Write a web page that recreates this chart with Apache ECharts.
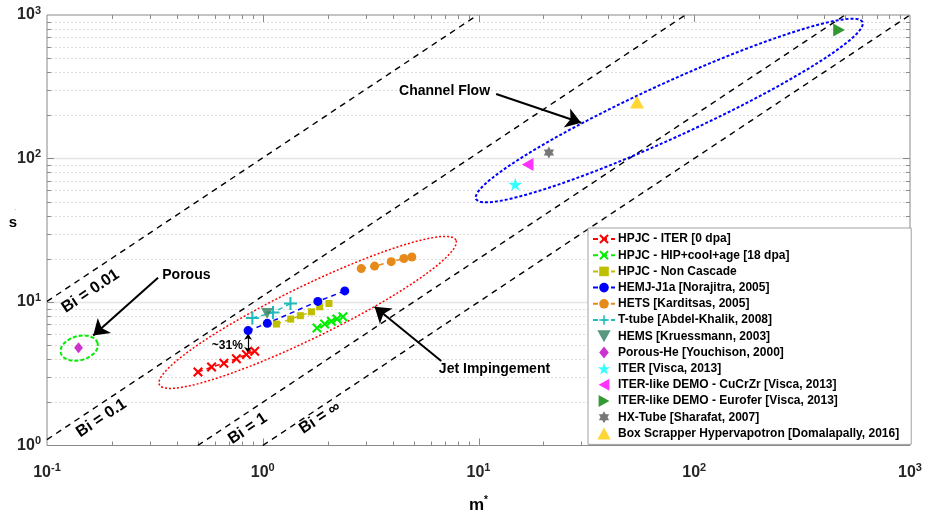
<!DOCTYPE html>
<html>
<head>
<meta charset="utf-8">
<script src="https://cdn.jsdelivr.net/npm/echarts@6/dist/echarts.min.js"></script>
<style>
html,body{margin:0;padding:0;background:#fff;}
#chart{width:932px;height:519px;}
</style>
</head>
<body>
<div id="chart"></div>
<script>
var hpjcIterM = [0.501, 0.579, 0.660, 0.755, 0.840, 0.918];
var hpjcIterS = [3.25, 3.52, 3.75, 4.02, 4.31, 4.54];
var hpjcHipM = [1.784, 1.936, 2.080, 2.208, 2.353];
var hpjcHipS = [6.59, 7.02, 7.33, 7.60, 7.90];
var hpjcNcM = [1.157, 1.348, 1.494, 1.681, 1.836, 2.027];
var hpjcNcS = [7.02, 7.60, 8.03, 8.55, 9.26, 9.76];
var hemjM = [0.855, 1.05, 1.80, 2.40];
var hemjS = [6.32, 7.10, 10.1, 11.95];
var hetsM = [2.86, 3.30, 3.94, 4.51, 4.91];
var hetsS = [17.1, 17.8, 19.1, 20.1, 20.6];
var ttubeM = [0.895, 1.116, 1.344];
var ttubeS = [7.73, 8.46, 9.76];
var hemsPt = [1.047, 8.32];
var porousPt = [0.140, 4.79];
var iterPt = [14.8, 66.1];
var demoCuPt = [16.9, 90.9];
var demoEuPt = [469, 785];
var hxPt = [21.2, 110];
var boxPt = [54.3, 246.7];

// Biot lines (end points)
var biNames = ['Bi = 0.01', 'Bi = 0.1', 'Bi = 1', 'Bi = \u221E'];
var biLines = [
  [[0.1, 10.1], [9.9, 1000]],
  [[0.1, 1.1], [90.9, 1000]],
  [[0.5, 1], [500, 1000]],
  [[1, 1], [1000, 1000]]
];
var biLabelAt = [[0.159, 11.9], [0.1786, 1.55], [0.852, 1.31], [1.84, 1.56]];

function pairs(ms, ss) {
  var out = [];
  for (var i = 0; i < ms.length; i++) out.push([ms[i], ss[i]]);
  return out;
}

var symX = 'path://M1.5,0L5,3.5L8.5,0L10,1.5L6.5,5L10,8.5L8.5,10L5,6.5L1.5,10L0,8.5L3.5,5L0,1.5Z';
var symPlus = 'path://M4.2,0H5.8V4.2H10V5.8H5.8V10H4.2V5.8H0V4.2H4.2Z';
var symStar = 'path://M50,0L61,35L98,35L68,57L79,91L50,70L21,91L32,57L2,35L39,35Z';
var symHex = 'path://M50,0L64,25L93,25L79,50L93,75L64,75L50,100L36,75L7,75L21,50L7,25L36,25Z';
var triUp = 'path://M5,0L10,9L0,9Z';
var triDown = 'path://M0,0L10,0L5,9Z';
var triLeft = 'path://M9,0L9,10L0,5Z';
var triRight = 'path://M0,0L9,5L0,10Z';
var symDiamond = 'path://M4,0L8,5L4,10L0,5Z';

var FONT = '"Liberation Sans", Arial, sans-serif';

var chart = echarts.init(document.getElementById('chart'));

function lineSeries(name, data, color, sym, size) {
  return {
    name: name, type: 'line', data: data, symbol: sym, symbolSize: size,
    showSymbol: true, z: 5,
    lineStyle: { color: color, width: 1.5, type: [5, 4] },
    itemStyle: { color: color }
  };
}
function dotSeries(name, pt, color, sym, size) {
  return {
    name: name, type: 'scatter', data: [pt], symbol: sym, symbolSize: size,
    symbolKeepAspect: true, z: 5, itemStyle: { color: color }
  };
}

var series = [];
for (var i = 0; i < biLines.length; i++) {
  series.push({
    name: biNames[i], type: 'line', data: biLines[i], showSymbol: false, silent: true, z: 3,
    lineStyle: { color: '#000', width: 1.4, type: [6, 5] }
  });
}
series.push(lineSeries('HPJC - ITER [0 dpa]', pairs(hpjcIterM, hpjcIterS), '#ff0000', symX, 10));
series.push(lineSeries('HPJC - HIP+cool+age [18 dpa]', pairs(hpjcHipM, hpjcHipS), '#00ee00', symX, 10));
series.push(lineSeries('HPJC - Non Cascade', pairs(hpjcNcM, hpjcNcS), '#bfbf00', 'rect', 7));
series.push(lineSeries('HEMJ-J1a [Norajitra, 2005]', pairs(hemjM, hemjS), '#0000ff', 'circle', 9));
series.push(lineSeries('HETS [Karditsas, 2005]', pairs(hetsM, hetsS), '#e68a1a', 'circle', 9));
series.push(lineSeries('T-tube [Abdel-Khalik, 2008]', pairs(ttubeM, ttubeS), '#20bcbc', symPlus, 13));
series.push(dotSeries('HEMS [Kruessmann, 2003]', hemsPt, '#2f7f5f', triDown, 12));
series.push(dotSeries('Porous-He [Youchison, 2000]', porousPt, '#bf00bf', symDiamond, 11));
series.push(dotSeries('ITER [Visca, 2013]', iterPt, '#00ffff', symStar, 14));
series.push(dotSeries('ITER-like DEMO - CuCrZr [Visca, 2013]', demoCuPt, '#ff00ff', triLeft, 13));
series.push(dotSeries('ITER-like DEMO - Eurofer [Visca, 2013]', demoEuPt, '#008000', triRight, 13));
series.push(dotSeries('HX-Tube [Sharafat, 2007]', hxPt, '#555555', symHex, 12));
series.push(dotSeries('Box Scrapper Hypervapotron [Domalapally, 2016]', boxPt, '#ffcc00', triUp, 14));

// annotation arrows
series.push({
  name: 'arrows', type: 'line', data: [], silent: true, z: 6,
  markLine: {
    silent: true, animation: false,
    symbol: ['none', 'arrow'], symbolSize: 15,
    label: { show: false },
    lineStyle: { color: '#000', width: 2, type: 'solid' },
    data: [
      [{ coord: [0.327, 14.78] }, { coord: [0.1638, 5.84] }],
      [{ coord: [12.08, 281.8] }, { coord: [29.9, 177.5] }],
      [{ coord: [6.72, 3.88] }, { coord: [3.30, 9.26] }]
    ]
  }
});
series.push({
  name: 'gap', type: 'line', data: [], silent: true, z: 6,
  markLine: {
    silent: true, animation: false,
    symbol: ['arrow', 'arrow'], symbolSize: 6,
    label: { show: false },
    lineStyle: { color: '#000', width: 1.2, type: 'solid' },
    data: [[{ coord: [0.855, 6.0] }, { coord: [0.855, 4.42] }]]
  }
});

var legendNames = series.slice(4, 17).map(function (s) { return s.name; });

function powLabel(v) {
  var e = Math.round(Math.log(v) / Math.LN10);
  return '{b|10}{s|' + e + '}';
}
var tickRich = {
  b: { fontSize: 16, fontWeight: 'bold', color: '#262626', fontFamily: FONT },
  s: { fontSize: 11, fontWeight: 'bold', color: '#262626', fontFamily: FONT, padding: [0, 0, 9, 0] }
};

chart.setOption({
  animation: false,
  backgroundColor: '#fff',
  grid: { left: 47, right: 22, top: 15, bottom: 70, show: true, borderColor: '#8a8a8a', borderWidth: 1 },
  xAxis: {
    type: 'log', logBase: 10, min: 0.1, max: 1000,
    axisLine: { show: false }, axisTick: { show: false }, splitLine: { show: false },
    axisLabel: { margin: 17, formatter: powLabel, rich: tickRich },
    name: '{b|m}{s|*}', nameLocation: 'middle', nameGap: 50,
    nameTextStyle: { rich: {
      b: { fontSize: 17, fontWeight: 'bold', color: '#000', fontFamily: FONT },
      s: { fontSize: 10, fontWeight: 'bold', color: '#000', fontFamily: FONT, padding: [0, 0, 10, 0] }
    } }
  },
  yAxis: {
    type: 'log', logBase: 10, min: 1, max: 1000,
    axisLine: { show: false }, axisTick: { show: false }, splitLine: { show: false },
    axisLabel: { margin: 6, formatter: powLabel, rich: tickRich },
    name: '{s|\u02D9}\n{b|s}', nameLocation: 'middle', nameGap: 30, nameRotate: 0,
    nameMoveOverlap: false,
    nameTextStyle: { padding: [0, 0, 20, 0], rich: {
      b: { fontSize: 15, fontWeight: 'bold', color: '#000', fontFamily: FONT },
      s: { fontSize: 8, color: '#555', fontFamily: FONT, lineHeight: 6 }
    } }
  },
  legend: {
    data: legendNames, orient: 'vertical', left: 588, top: 228,
    padding: [5, 12, 5, 4], itemGap: 4.2, itemWidth: 22, itemHeight: 12,
    symbolKeepAspect: true,
    backgroundColor: '#fff', borderColor: '#a0a0a0', borderWidth: 1,
    selectedMode: false,
    textStyle: { fontSize: 12, lineHeight: 12, fontWeight: 'bold', color: '#000', fontFamily: FONT, padding: [0, 0, 0, -2] }
  },
  series: series
});

// ---- extra drawing: ticks, grid lines, ellipses, texts
function px(m, s) { return chart.convertToPixel({ gridIndex: 0 }, [m, s]); }

var g = [];
var x0 = px(0.1, 1)[0], x1 = px(1000, 1)[0];
var yB = px(1, 1)[1], yT = px(1, 1000)[1];

function seg(a, b, c, d, color, w, dash, z) {
  g.push({ type: 'line', silent: true, z: z || 1,
    shape: { x1: a, y1: b, x2: c, y2: d },
    style: { stroke: color, lineWidth: w, lineDash: dash || null } });
}

// horizontal grid lines and y ticks
for (var e = 0; e < 3; e++) {
  for (var k = 2; k < 10; k++) {
    var yy = Math.round(px(1, k * Math.pow(10, e))[1]) + 0.5;
    seg(x0, yy, x1, yy, '#dcdcdc', 1, [2, 2]);
    seg(x0, yy, x0 + 4, yy, '#8a8a8a', 1, null, 2);
    seg(x1, yy, x1 - 4, yy, '#8a8a8a', 1, null, 2);
  }
}
[10, 100].forEach(function (v) {
  var yy = Math.round(px(1, v)[1]) + 0.5;
  seg(x0, yy, x1, yy, '#e4e4e4', 1.5);
  seg(x0, yy, x0 + 7, yy, '#8a8a8a', 1, null, 2);
  seg(x1, yy, x1 - 7, yy, '#8a8a8a', 1, null, 2);
});
// x ticks
for (var e2 = -1; e2 < 3; e2++) {
  for (var k2 = 1; k2 < 10; k2++) {
    if (k2 === 1 && e2 === -1) continue;
    var xx = Math.round(px(k2 * Math.pow(10, e2), 1)[0]) + 0.5;
    var L = k2 === 1 ? 7 : 4;
    seg(xx, yB, xx, yB - L, '#8a8a8a', 1, null, 2);
    seg(xx, yT, xx, yT + L, '#8a8a8a', 1, null, 2);
  }
}

// ellipses (center in data coords, axes in px, angle in degrees)
var ellipses = [
  { c: [1.615, 8.46], a: 165, b: 26, ang: 26, color: '#ff0000', w: 1.5, dash: [2, 2] },
  { c: [76.6, 216], a: 212.5, b: 27, ang: 24.6, color: '#0000ff', w: 2, dash: [3, 2] },
  { c: [0.141, 4.77], a: 19, b: 12, ang: 15, color: '#00ee00', w: 2, dash: [4, 2] }
];
ellipses.forEach(function (el) {
  var p = px(el.c[0], el.c[1]);
  var th = el.ang * Math.PI / 180;
  var pts = [];
  for (var i = 0; i < 120; i++) {
    var t = i / 120 * Math.PI * 2;
    var u = el.a * Math.cos(t), v = el.b * Math.sin(t);
    pts.push([p[0] + u * Math.cos(th) - v * Math.sin(th), p[1] - (u * Math.sin(th) + v * Math.cos(th))]);
  }
  g.push({ type: 'polygon', silent: true, z: 4, shape: { points: pts },
    style: { fill: 'none', stroke: el.color, lineWidth: el.w, lineDash: el.dash } });
});

// Bi labels along the lines
biLines.forEach(function (ln, i) {
  var a = px(ln[0][0], ln[0][1]), b = px(ln[1][0], ln[1][1]);
  var ang = Math.atan2(-(b[1] - a[1]), b[0] - a[0]);
  var p = px(biLabelAt[i][0], biLabelAt[i][1]);
  g.push({ type: 'text', silent: true, z: 10, x: p[0], y: p[1], rotation: ang,
    style: { text: biNames[i], fill: '#000', font: 'bold 16px ' + FONT, align: 'center', verticalAlign: 'middle' } });
});

// annotation texts
var notes = [
  { t: 'Porous', at: [0.4425, 15.5], size: 14 },
  { t: 'Channel Flow', at: [6.96, 295.5], size: 14 },
  { t: 'Jet Impingement', at: [11.86, 3.41], size: 14 },
  { t: '~31%', at: [0.685, 5.0], size: 12 }
];
notes.forEach(function (n) {
  var p = px(n.at[0], n.at[1]);
  g.push({ type: 'text', silent: true, z: 10, x: p[0], y: p[1],
    style: { text: n.t, fill: '#000', font: 'bold ' + n.size + 'px ' + FONT, align: 'center', verticalAlign: 'middle' } });
});

chart.setOption({ graphic: g });
</script>
</body>
</html>
